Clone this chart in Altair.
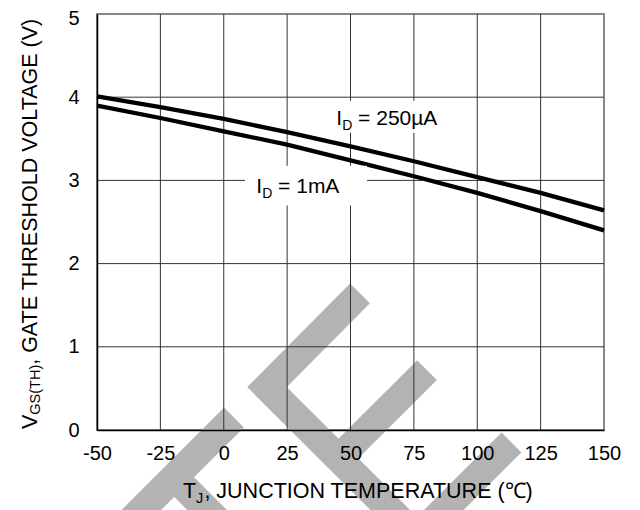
import altair as alt
import pandas as pd

# ---- data ----
temps = [-50, -25, 0, 25, 50, 75, 100, 125, 150]
vth_250ua = [4.01, 3.88, 3.74, 3.58, 3.41, 3.23, 3.04, 2.85, 2.64]
vth_1ma = [3.90, 3.75, 3.59, 3.43, 3.24, 3.05, 2.85, 2.63, 2.40]
x_ticks = [-50, -25, 0, 25, 50, 75, 100, 125, 150]
y_ticks = [0, 1, 2, 3, 4, 5]
x_grid = [-25, 0, 25, 50, 75, 100, 125]
y_grid = [1, 2, 3, 4]

# watermark strokes (decoration), in data units
wm_id = ["a", "a", "b", "b", "c", "c", "c", "d", "d", "e", "e"]
wm_seq = [0, 1, 0, 1, 0, 1, 2, 0, 1, 0, 1]
wm_t = [4.04, -39.35, -19.53, 6.41, 53.75, 17.06, 69.53, 80.18, 45.27, 113.51, 81.95]
wm_v = [0.150, -1.169, -0.567, -1.355, 1.643, 0.516, -1.079, 0.719, -0.342, -0.150, -1.109]

# label boxes (white background behind annotations)
box_t1 = [41.9, 8.4]
box_t2 = [87.3, 56.5]
box_v1 = [3.957, 3.177]
box_v2 = [3.573, 2.698]

FONT = "Liberation Sans"

curves = pd.DataFrame({
    "T": temps * 2,
    "V": vth_250ua + vth_1ma,
    "s": ["250uA"] * len(temps) + ["1mA"] * len(temps),
})
wm = pd.DataFrame({"T": wm_t, "V": wm_v, "id": wm_id, "seq": wm_seq})
boxes = pd.DataFrame({"T": box_t1, "T2": box_t2, "V": box_v1, "V2": box_v2})

xs = alt.Scale(domain=[-50, 150], nice=False, zero=False)
ys = alt.Scale(domain=[0, 5], nice=False, zero=False)
x_axis = alt.Axis(values=x_ticks, grid=False, ticks=False, tickSize=0, domainColor="black",
                  domainWidth=1.5, labelFontSize=20, labelFont=FONT, labelColor="black",
                  labelPadding=13, labelFlush=False, labelOverlap=False, zindex=1, title=None,
                  labelExpr="'' + datum.value")
y_axis = alt.Axis(values=y_ticks, grid=False, ticks=False, tickSize=0, domainColor="black",
                  domainWidth=1.5, labelFontSize=20, labelFont=FONT, labelColor="black",
                  labelPadding=18, labelOverlap=False, zindex=1, title=None,
                  labelExpr="'' + datum.value",
                  labelOffset={"condition": {"test": "datum.value == 5", "value": 4}, "value": 0})


def X(field="T"):
    return alt.X(f"{field}:Q", scale=xs, axis=x_axis, title=None)


def Y(field="V"):
    return alt.Y(f"{field}:Q", scale=ys, axis=y_axis, title=None)


watermark = alt.Chart(wm).mark_line(
    color="#b3b3b3", strokeWidth=28, strokeCap="butt", strokeJoin="miter", clip=False
).encode(x=X(), y=Y(), detail="id:N", order="seq:Q")

vgrid = alt.Chart(pd.DataFrame({"T": x_grid})).mark_rule(color="#333333", strokeWidth=1).encode(x=X())
hgrid = alt.Chart(pd.DataFrame({"V": y_grid})).mark_rule(color="#333333", strokeWidth=1).encode(y=Y())

lines = alt.Chart(curves).mark_line(color="black", strokeWidth=4.3).encode(
    x=X(), y=Y(), detail="s:N"
)

rects = alt.Chart(boxes).mark_rect(color="white").encode(
    x=X(), x2="T2:Q", y=Y(), y2="V2:Q"
)


def txt(text, t, v, size, dx=0, dy=0):
    return alt.Chart(pd.DataFrame({"T": [t], "V": [v]})).mark_text(
        text=text, font=FONT, fontSize=size, align="left", baseline="alphabetic",
        color="black", dx=dx, dy=dy
    ).encode(x=X(), y=Y())


ann = [
    txt("I", 44.4, 3.665, 21),
    txt("D", 44.4, 3.665, 14, dx=5.84, dy=5),
    txt("= 250\u00b5A", 44.4, 3.665, 21, dx=21.8),
    txt("I", 12.84, 2.854, 21),
    txt("D", 12.84, 2.854, 14, dx=5.84, dy=5),
    txt("= 1mA", 12.84, 2.854, 21, dx=21.8),
]


def ptxt(text, x, y, size, angle=0):
    kw = dict(text=text, font=FONT, fontSize=size, align="left", baseline="alphabetic", color="black")
    if angle:
        kw["angle"] = angle
    return alt.Chart(pd.DataFrame({"a": [0]})).mark_text(**kw).encode(
        x=alt.value(x), y=alt.value(y)
    )


titles = [
    ptxt("T", 86, 484, 21.5),
    ptxt("J", 99.1, 489, 14.5),
    ptxt(", JUNCTION TEMPERATURE (\u2103)", 107.4, 484, 21.5),
    ptxt("V", -60, 415, 21.5, angle=270),
    ptxt("GS(TH)", -57, 400.7, 14.5, angle=270),
    ptxt(", GATE THRESHOLD VOLTAGE (V)", -60, 350.8, 21.5, angle=270),
]

chart = alt.layer(watermark, vgrid, hgrid, lines, rects, *ann, *titles).properties(
    width=507, height=416,
    padding={"left": 89, "top": 6, "right": 28, "bottom": 80},
    autosize="none",
    background="white",
).configure_view(stroke="#888888", strokeWidth=2)

chart.save("out.html", embed_options={"renderer": "svg", "actions": False})
